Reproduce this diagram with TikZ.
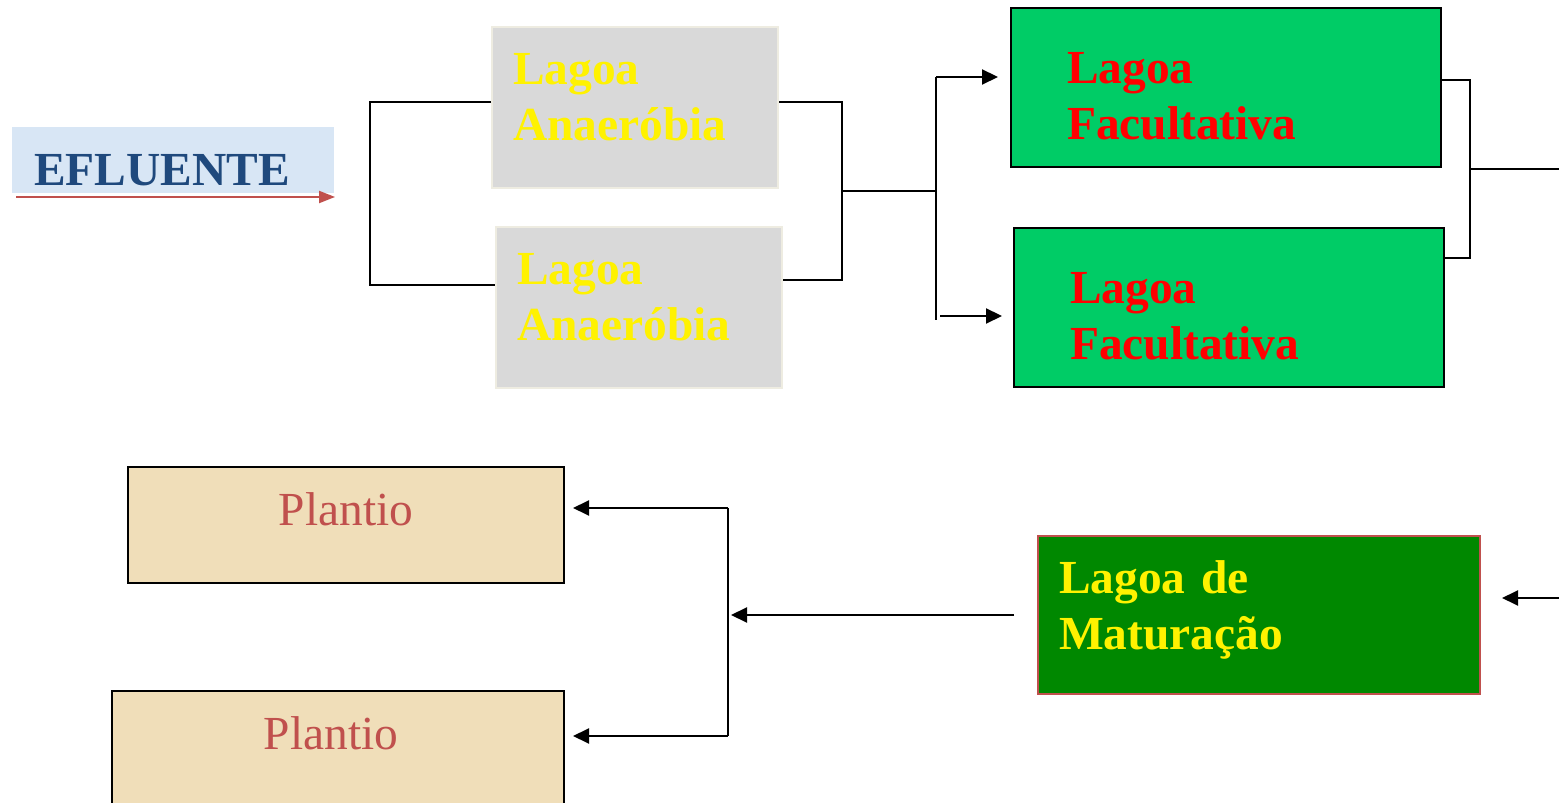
\documentclass[tikz,border=0pt]{standalone}
\usepackage{fontspec}
\setmainfont{Liberation Serif}
\usepackage{xcolor}
\usetikzlibrary{arrows.meta}
\definecolor{anagray}{RGB}{217,217,217}
\definecolor{anaedge}{RGB}{238,236,225}
\definecolor{facgreen}{RGB}{0,204,102}
\definecolor{matgreen}{RGB}{0,136,0}
\definecolor{brickred}{RGB}{192,80,77}
\definecolor{sand}{RGB}{240,222,185}
\definecolor{effblue}{RGB}{216,230,245}
\definecolor{effnavy}{RGB}{31,73,125}
\tikzset{
  lagoa/.style={anchor=north west,inner ysep=0pt,align=left,line width=1.2pt,font=\bfseries\fontsize{27}{32.4}\selectfont},
  anabox/.style={lagoa,draw=anaedge,fill=anagray,text=yellow,inner xsep=0.42cm,text width=4.88cm,text height=1.14cm,text depth=2.08cm},
  facbox/.style={lagoa,draw=black,fill=facgreen,text=red,inner xsep=1.12cm,text width=6.36cm,text height=1.5cm,text depth=1.68cm},
  plantbox/.style={anchor=north west,draw,line width=1.2pt,fill=sand,text=brickred,inner sep=0pt,align=center,font=\fontsize{27}{32.4}\selectfont,text height=1.16cm},
  conn/.style={line width=1.2pt},
  arr/.style={-{Triangle[length=0.32cm,width=0.3cm]},line width=1.2pt},
  effarr/.style={-{Triangle[length=0.32cm,width=0.24cm]},line width=1.2pt,draw=brickred},
}
\begin{document}
\begin{tikzpicture}[x=0.02cm,y=-0.02cm]
\useasboundingbox (0,0) rectangle (1559,803);
\clip (0,0) rectangle (1559,803);
% inflow
\node[lagoa,fill=effblue,text=effnavy,inner xsep=0.44cm,text width=5.56cm,text height=1.16cm,text depth=0.16cm] (eff) at (11,126) {EFLUENTE};
\coordinate (effin) at (16,197);
\draw[effarr] (effin) -- (eff.east |- effin);
% ponds
\node[anabox] (ana1) at (491,26) {Lagoa\\Anaeróbia};
\node[anabox] (ana2) at (495,226) {Lagoa\\Anaeróbia};
\node[facbox] (fac1) at (1010,7) {Lagoa\\Facultativa};
\node[facbox] (fac2) at (1013,227) {Lagoa\\Facultativa};
\node[lagoa,draw=brickred,fill=matgreen,text=yellow,inner xsep=0.42cm,text width=8cm,text height=1.14cm,text depth=2.02cm] (mat) at (1037,535) {Lagoa de\\Maturação};
\node[plantbox,text width=8.72cm,text depth=1.16cm] (pl1) at (127,466) {Plantio};
\node[plantbox,text width=9.04cm,text depth=1.3cm] (pl2) at (111,690) {\hspace*{-0.28cm}Plantio};
% anaerobic split
\coordinate (b1) at (370,102);
\coordinate (b2) at (370,285);
\draw[conn] (ana1.west |- b1) -- (b1) -- (b2) -- (ana2.west |- b2);
\coordinate (c1) at (842,102);
\coordinate (c2) at (842,280);
\coordinate (c3) at (936,191);
\draw[conn] (ana1.east |- c1) -- (c1) -- (c2) -- (ana2.east |- c2);
\draw[conn] (c1 |- c3) -- (c3);
\coordinate (d1) at (936,77);
\coordinate (d2) at (936,320);
\coordinate (d3) at (940,316);
\draw[conn] (d1) -- (d2);
\draw[arr,shorten >=0.24cm] (d1) -- (fac1.west |- d1);
\draw[arr,shorten >=0.22cm] (d3) -- (fac2.west |- d3);
% facultative join
\coordinate (e1) at (1470,80);
\coordinate (e2) at (1470,258);
\coordinate (e3) at (1559,169);
\draw[conn] (fac1.east |- e1) -- (e1) -- (e2) -- (fac2.east |- e2);
\draw[conn] (e1 |- e3) -- (e3);
% maturation and planting
\coordinate (f1) at (1559,598);
\draw[arr,shorten >=0.42cm] (f1) -- (mat.east |- f1);
\coordinate (g1) at (731,615);
\draw[arr,shorten <=0.46cm] (mat.west |- g1) -- (g1);
\coordinate (h1) at (728,508);
\coordinate (h2) at (728,736);
\draw[conn] (h1) -- (h2);
\draw[arr,shorten >=0.16cm] (h1) -- (pl1.east |- h1);
\draw[arr,shorten >=0.16cm] (h2) -- (pl2.east |- h2);
\end{tikzpicture}
\end{document}
